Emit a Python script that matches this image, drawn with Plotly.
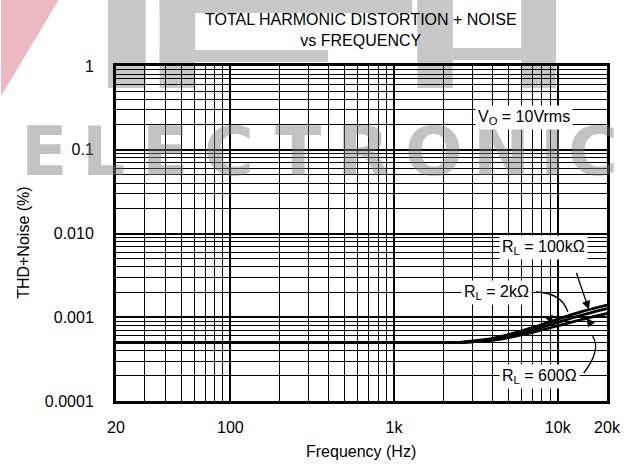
import plotly.graph_objects as go
import math

# Measured THD+N (%) vs frequency for three load resistances (Vo = 10 Vrms)
freq_hz = [20, 100, 1000, 2000, 2500, 3000, 4000, 5000, 7000, 10000, 14000, 20000]
thdn_100k = [0.0005, 0.0005, 0.0005, 0.0005, 0.0005, 0.00052, 0.00056, 0.00062, 0.00075, 0.00095, 0.00117, 0.0014]
thdn_2k = [0.0005, 0.0005, 0.0005, 0.0005, 0.0005, 0.00051, 0.00054, 0.00059, 0.00070, 0.00087, 0.00106, 0.00127]
thdn_600 = [0.0005, 0.0005, 0.0005, 0.0005, 0.0005, 0.00051, 0.00053, 0.00057, 0.00066, 0.00079, 0.00094, 0.00111]

x_tickvals = [20, 100, 1000, 10000, 20000]
x_ticktext = ["20", "100", "1k", "10k", "20k"]
y_tickvals = [0.0001, 0.001, 0.01, 0.1, 1]
y_ticktext = ["0.0001", "0.001", "0.010", "0.1", "1"]

W, H = 633, 468
ML, MR, MT, MB = 116, 21.5, 66, 67
PW, PH = W - ML - MR, H - MT - MB
FONT = "Liberation Sans, Arial, Helvetica, sans-serif"


def px(xp):
    return (xp - ML) / PW


def py(yp):
    return (H - MB - yp) / PH


fig = go.Figure()
for ys in (thdn_100k, thdn_2k, thdn_600):
    fig.add_trace(go.Scatter(x=freq_hz, y=ys, mode="lines",
                             line=dict(color="black", width=2.8, shape="spline", smoothing=0.6),
                             showlegend=False, hoverinfo="skip"))

axis_common = dict(
    type="log", showline=True, linecolor="black", linewidth=3, mirror=True,
    showgrid=True, gridcolor="black", gridwidth=2.4, zeroline=False,
    ticks="", tickfont=dict(family=FONT, size=16, color="black"),
    minor=dict(dtick="D1", showgrid=True, gridcolor="black", gridwidth=1, ticks=""),
)
fig.update_xaxes(range=[math.log10(20), math.log10(20000)], tickmode="array", tickvals=x_tickvals,
                 ticktext=x_ticktext, ticklabelstandoff=10, **axis_common)
fig.update_yaxes(range=[-4, 0], tickmode="array", tickvals=y_tickvals, ticktext=y_ticktext,
                 ticklabelstandoff=16, **axis_common)

# Background logo: pale pink wedge and grey block letters
shapes = []
shapes.append(dict(type="path", xref="paper", yref="paper", layer="below",
                   path=f"M {px(0)} {py(0)} L {px(58)} {py(0)} L {px(0)} {py(96)} Z",
                   fillcolor="rgb(236,184,194)", line=dict(width=0)))
grey_blocks = [(108, 0, 146, 88), (160, 0, 415, 13), (160, 50, 330, 62), (160, 0, 196, 88),
               (420, 0, 456, 88), (456, 48, 560, 60), (525, 0, 560, 88)]
for (x0, y0, x1, y1) in grey_blocks:
    shapes.append(dict(type="rect", xref="paper", yref="paper", layer="below",
                       x0=px(x0), x1=px(x1), y0=py(y1), y1=py(y0),
                       fillcolor="rgb(200,200,200)", line=dict(width=0)))

# Curved leader lines for the 2k and 600 ohm labels
shapes.append(dict(type="path", xref="paper", yref="paper",
                   path=f"M {px(540)} {py(292)} Q {px(566)} {py(293)} {px(572)} {py(312)}",
                   line=dict(color="black", width=1.3)))
shapes.append(dict(type="path", xref="paper", yref="paper",
                   path=f"M {px(588)} {py(373)} Q {px(606)} {py(350)} {px(597)} {py(336)}",
                   line=dict(color="black", width=1.3)))

annotations = []
for letter, xc in zip("ELECTRONIC", [43, 103, 165, 230, 300, 365, 437, 505, 556, 597]):
    annotations.append(dict(text=f"<b>{letter}</b>", xref="paper", yref="paper", x=px(xc), y=py(151),
                            xanchor="center", yanchor="middle", showarrow=False,
                            font=dict(family="DejaVu Sans, sans-serif", size=68,
                                      color="rgba(120,120,120,0.45)")))

annotations += [
    dict(text="TOTAL HARMONIC DISTORTION + NOISE<br>vs FREQUENCY", xref="paper", yref="paper",
         x=px(363.5), y=py(30), xanchor="center", yanchor="middle", showarrow=False,
         font=dict(family=FONT, size=16, color="black")),
    dict(text="Frequency (Hz)", xref="paper", yref="paper", x=px(363.5), y=py(451),
         xanchor="center", yanchor="middle", showarrow=False, font=dict(family=FONT, size=16, color="black")),
    dict(text="THD+Noise (%)", xref="paper", yref="paper", x=px(22), y=py(243), textangle=-90,
         xanchor="center", yanchor="middle", showarrow=False, font=dict(family=FONT, size=16, color="black")),
    dict(text="V<sub>O</sub> = 10Vrms", xref="paper", yref="paper", x=px(528), y=py(117),
         xanchor="center", yanchor="middle", showarrow=False, bgcolor="white", borderpad=2,
         font=dict(family=FONT, size=16, color="black")),
    dict(text="R<sub>L</sub> = 100kΩ", xref="paper", yref="paper", x=px(547), y=py(247),
         xanchor="center", yanchor="middle", showarrow=False, bgcolor="white", borderpad=2,
         font=dict(family=FONT, size=16, color="black")),
    dict(text="R<sub>L</sub> = 2kΩ", xref="paper", yref="paper", x=px(500), y=py(292),
         xanchor="center", yanchor="middle", showarrow=False, bgcolor="white", borderpad=2,
         font=dict(family=FONT, size=16, color="black")),
    dict(text="R<sub>L</sub> = 600Ω", xref="paper", yref="paper", x=px(543), y=py(376),
         xanchor="center", yanchor="middle", showarrow=False, bgcolor="white", borderpad=2,
         font=dict(family=FONT, size=16, color="black")),
    # arrow from the 100k label down to its curve
    dict(text="", x=math.log10(15500), y=math.log10(0.00124), xref="x", yref="y",
         showarrow=True, arrowhead=2, arrowsize=1.3, arrowwidth=1.3, arrowcolor="black",
         ax=-13, ay=-38, standoff=0),
    # arrowheads at the ends of the curved leaders
    dict(text="", x=math.log10(9200), y=math.log10(0.00083), xref="x", yref="y",
         showarrow=True, arrowhead=2, arrowsize=1.3, arrowwidth=1.3, arrowcolor="black",
         ax=-3, ay=-8, standoff=0),
    dict(text="", x=math.log10(15000), y=math.log10(0.00098), xref="x", yref="y",
         showarrow=True, arrowhead=2, arrowsize=1.3, arrowwidth=1.3, arrowcolor="black",
         ax=5, ay=7, standoff=0),
]

fig.update_layout(
    width=W, height=H, margin=dict(l=ML, r=MR, t=MT, b=MB),
    paper_bgcolor="white", plot_bgcolor="rgba(0,0,0,0)",
    shapes=shapes, annotations=annotations, showlegend=False,
    font=dict(family=FONT, color="black"),
)

fig.write_html("out.html", config={"displayModeBar": False})
